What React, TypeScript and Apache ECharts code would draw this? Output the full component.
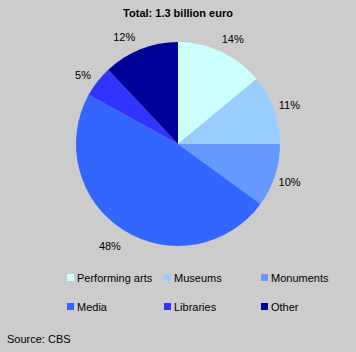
import React, { useEffect, useRef } from "react";
import * as echarts from "echarts";

const categories = ["Performing arts", "Museums", "Monuments", "Media", "Libraries", "Other"];
const values = [14, 11, 10, 48, 5, 12];
const colors = ["#CCFFFF", "#99CCFF", "#6699FF", "#3366FF", "#3333FF", "#000099"];
const titleText = "Total: 1.3 billion euro";
const sourceText = "Source: CBS";

const FONT = "Arial, 'Liberation Sans', sans-serif";

export default function App() {
  const ref = useRef<HTMLDivElement>(null);
  useEffect(() => {
    if (!ref.current) return;
    const chart = echarts.init(ref.current, null, { renderer: "svg" });
    const data = categories.map((name, i) => ({
      name,
      value: values[i],
      itemStyle: { color: colors[i] },
    }));
    const labelOffsets = [[3, 5], [-3, 2], [-4, 0], [-3, -1], [1, 5], [-9, 6]];
    const legendPos = [
      [67, 274], [164, 274], [261, 274],
      [67, 303], [164, 303], [261, 303],
    ];
    const legends = categories.map((name, i) => ({
      data: [name],
      left: legendPos[i][0],
      top: legendPos[i][1] - 2,
      itemWidth: 7,
      itemHeight: 7,
      itemGap: 0,
      padding: 0,
      icon: "rect",
      selectedMode: false,
      textStyle: { fontSize: 11, fontFamily: FONT, color: "#000", padding: [0, 0, 0, -2] },
    }));
    chart.setOption({
      animation: false,
      backgroundColor: "#CCCCCC",
      title: {
        text: titleText,
        left: "center",
        top: 7,
        padding: 0,
        textStyle: { fontSize: 11, fontWeight: "bold", fontFamily: FONT, color: "#000" },
      },
      legend: legends,
      graphic: [
        {
          type: "text",
          left: 7,
          top: 333,
          style: { text: sourceText, fontSize: 11, fontFamily: FONT, fill: "#000" },
        },
      ],
      series: [
        {
          type: "pie",
          center: [178, 144],
          radius: [0, 102],
          startAngle: 90,
          clockwise: true,
          silent: true,
          label: { show: false },
          labelLine: { show: false },
          data,
        },
        {
          type: "pie",
          center: [178, 144],
          radius: [110, 127],
          startAngle: 90,
          clockwise: true,
          silent: true,
          itemStyle: { color: "rgba(0,0,0,0)" },
          label: {
            show: true,
            position: "inside",
            formatter: "{c}%",
            fontSize: 11,
            fontFamily: FONT,
            color: "#000",
          },
          labelLine: { show: false },
          data: categories.map((name, i) => ({
            name,
            value: values[i],
            itemStyle: { color: "rgba(0,0,0,0)" },
            label: { offset: labelOffsets[i] },
          })),
        },
      ],
    });
    return () => chart.dispose();
  }, []);
  return (
    <div
      ref={ref}
      style={{ width: 356, height: 352, position: "fixed", left: 0, top: 0 }}
    />
  );
}
